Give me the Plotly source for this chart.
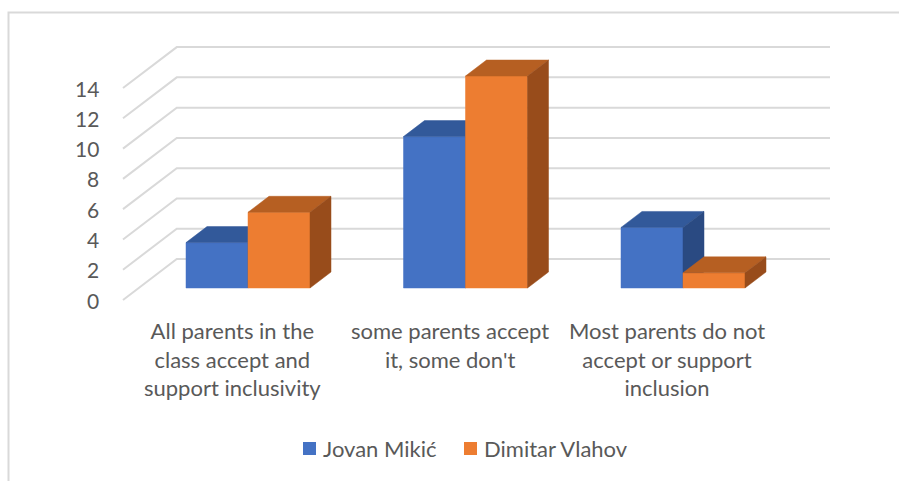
import plotly.graph_objects as go

# ---- data ----
categories = [
    "All parents in the<br>class accept and<br>support inclusivity",
    "some parents accept<br>it, some don't",
    "Most parents do not<br>accept or support<br>inclusion",
]
series_names = ["Jovan Mikić", "Dimitar Vlahov"]
jovan = [3, 10, 4]
dimitar = [5, 14, 1]
y_ticks = [0, 2, 4, 6, 8, 10, 12, 14]

# ---- styles ----
W, H = 899, 481
TEXT = "#595959"
GRID = "#D9D9D9"
FONT = "Lato"
faces = {
    "Jovan Mikić": {"front": "#4472C4", "top": "#32599A", "side": "#2A4A82"},
    "Dimitar Vlahov": {"front": "#ED7D31", "top": "#B65F22", "side": "#984C1B"},
}

# pixel scale of the axes (plot area = full figure)
X0PX, XS = 248.0, 217.5   # category 0 centre, px per category
Y0PX, YS = 288.0, 15.14   # value 0 of bar fronts, px per unit
x_range = [(0 - X0PX) / XS, (W - X0PX) / XS]
y_range = [(Y0PX - H) / YS, (Y0PX - 0) / YS]

BW = 62 / XS              # bar width in category units
DDX, DDY = 21 / XS, 16 / YS   # depth vector (one bar depth)
FRONT_D, WALL_D = -0.75, 1.81  # depth of floor front edge / back wall
FLOOR_LEFT = (138.75 - X0PX) / XS
WALL_RIGHT = (830 - X0PX) / XS

fig = go.Figure()

# gridlines (floor-side slant + back wall)
gx, gy = [], []
for v in y_ticks:
    gx += [FLOOR_LEFT + FRONT_D * DDX, FLOOR_LEFT + WALL_D * DDX, WALL_RIGHT, None]
    gy += [v + FRONT_D * DDY, v + WALL_D * DDY, v + WALL_D * DDY, None]
fig.add_trace(go.Scatter(x=gx, y=gy, mode="lines", line=dict(color=GRID, width=2),
                         hoverinfo="skip", showlegend=False))

def add_series(values, offset, name):
    fx, fy, tx, ty, sx, sy = [], [], [], [], [], []
    for i, v in enumerate(values):
        x0 = i + offset
        x1 = x0 + BW
        fx += [x0, x1, x1, x0, x0, None]
        fy += [0, 0, v, v, 0, None]
        tx += [x0, x1, x1 + DDX, x0 + DDX, x0, None]
        ty += [v, v, v + DDY, v + DDY, v, None]
        sx += [x1, x1 + DDX, x1 + DDX, x1, x1, None]
        sy += [0, DDY, v + DDY, v, 0, None]
    for xs, ys, key in ((fx, fy, "front"), (tx, ty, "top"), (sx, sy, "side")):
        fig.add_trace(go.Scatter(x=xs, y=ys, mode="lines", fill="toself",
                                 fillcolor=faces[name][key],
                                 line=dict(color=faces[name][key], width=0.5),
                                 name=name, hoverinfo="skip", showlegend=False))

add_series(jovan, -BW, series_names[0])
add_series(dimitar, 0, series_names[1])

ann = []
# y tick labels
for v in y_ticks:
    ann.append(dict(x=(101 - X0PX) / XS, y=v + FRONT_D * DDY, xref="x", yref="y",
                    text=str(v), showarrow=False, xanchor="right", yanchor="middle",
                    font=dict(family=FONT, size=21, color=TEXT)))
# category labels (centred on floor front edge)
for i, c in enumerate(categories):
    ann.append(dict(x=i + FRONT_D * DDX, y=(Y0PX - 315) / YS, xref="x", yref="y",
                    text=c, showarrow=False, xanchor="center", yanchor="top",
                    align="center", font=dict(family=FONT, size=22, color=TEXT)))

# legend (manual)
shapes = []
leg = [(303, series_names[0]), (464, series_names[1])]
for px, name in leg:
    shapes.append(dict(type="rect", xref="paper", yref="paper",
                       x0=px / W, x1=(px + 13) / W, y0=1 - 455 / H, y1=1 - 442 / H,
                       fillcolor=faces[name]["front"], line=dict(width=0)))
    ann.append(dict(x=(px + 18) / W, y=1 - 448 / H, xref="paper", yref="paper",
                    text=name, showarrow=False, xanchor="left", yanchor="middle",
                    font=dict(family=FONT, size=22, color=TEXT)))

# chart border
shapes.append(dict(type="rect", xref="paper", yref="paper", x0=8.5 / W, x1=1.05,
                   y0=-0.05, y1=1 - 12.5 / H, line=dict(color=GRID, width=2),
                   fillcolor="rgba(0,0,0,0)", layer="below"))

fig.update_layout(
    width=W, height=H, margin=dict(l=0, r=0, t=0, b=0),
    paper_bgcolor="white", plot_bgcolor="white",
    xaxis=dict(range=x_range, visible=False, fixedrange=True),
    yaxis=dict(range=y_range, visible=False, fixedrange=True),
    annotations=ann, shapes=shapes, showlegend=False,
)

fig.write_html("out.html")
